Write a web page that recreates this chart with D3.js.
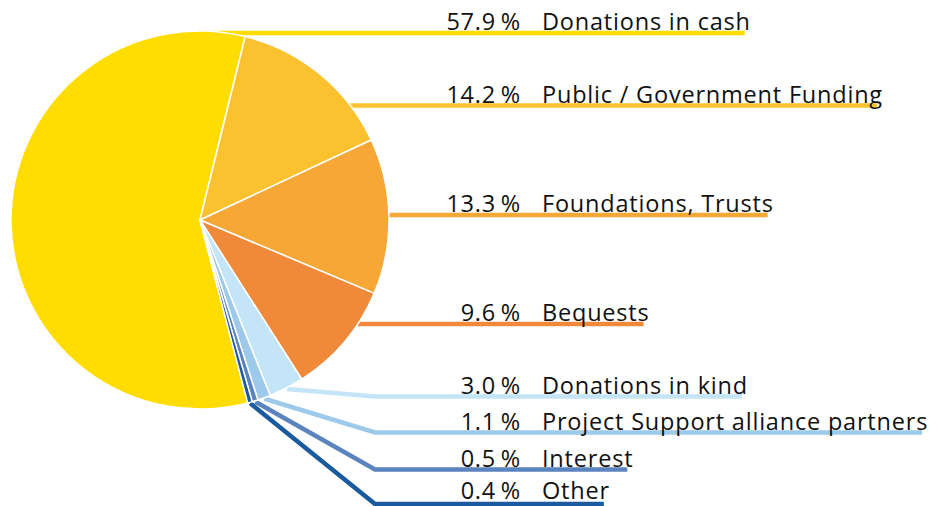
<!DOCTYPE html>
<html>
<head>
<meta charset="utf-8">
<script src="https://cdn.jsdelivr.net/npm/d3@7"></script>
<style>
  html, body { margin: 0; padding: 0; background: #ffffff; }
  svg { display: block; }
  text { font-family: "Open Sans", "Noto Sans", sans-serif; fill: #111111; }
</style>
</head>
<body>
<svg id="chart" width="931" height="506"></svg>
<script>
// ---- data ----
const categories = [
  "Donations in cash",
  "Public / Government Funding",
  "Foundations, Trusts",
  "Bequests",
  "Donations in kind",
  "Project Support alliance partners",
  "Interest",
  "Other"
];
const values = [57.9, 14.2, 13.3, 9.6, 3.0, 1.1, 0.5, 0.4];
const colors = ["#FFDD00", "#FCC12E", "#F6A735", "#F08A3A", "#C4E5F8", "#9DC9EA", "#5B84BF", "#1A5A9E"];

// ---- layout ----
const W = 931, H = 506;
const cx = 200, cy = 220, R = 189;
const startDeg = 165.4;                 // where the first slice begins (clockwise from 12 o'clock)
const labelRowY = [33, 105.5, 215, 324, 396.5, 432.5, 469.5, 504];
const leaderBend = [false, false, false, false, true, true, true, true];
const elbowX = 375;
const pctRightX = 521, nameX = 542;
const fontSize = 23.5;
const letterSpacing = 0.8;

const svg = d3.select("#chart");
const g = svg.append("g");

const pie = d3.pie().sort(null).value(d => d)
  .startAngle(startDeg * Math.PI / 180)
  .endAngle(startDeg * Math.PI / 180 + 2 * Math.PI);
const arcs = pie(values);
const arc = d3.arc().innerRadius(0).outerRadius(R);

const baseY = i => Math.min(labelRowY[i] - 3, H - 7.5);

// labels first (to measure their width)
const labels = g.append("g").attr("class", "labels");
const rows = labels.selectAll("g.row").data(arcs).join("g").attr("class", "row");
rows.append("text")
  .attr("x", pctRightX)
  .attr("y", (d, i) => baseY(i))
  .attr("text-anchor", "end")
  .attr("font-size", fontSize)
  .attr("letter-spacing", letterSpacing)
  .text(d => d.data.toFixed(1) + "\u2009%");
const nameText = rows.append("text")
  .attr("x", nameX)
  .attr("y", (d, i) => baseY(i))
  .attr("font-size", fontSize)
  .attr("letter-spacing", letterSpacing)
  .text((d, i) => categories[i]);

const nameEnds = [];
nameText.each(function (d, i) { nameEnds[i] = nameX + this.getComputedTextLength() - 6; });

// leader lines (behind pie)
const leaders = g.insert("g", ".labels").attr("class", "leaders");
const line = d3.line();
leaders.selectAll("path").data(arcs).join("path")
  .attr("fill", "none")
  .attr("stroke", (d, i) => colors[i])
  .attr("stroke-width", 4.5)
  .attr("stroke-linejoin", "miter")
  .attr("d", (d, i) => {
    const y = labelRowY[i];
    if (leaderBend[i]) {
      const m = (d.startAngle + d.endAngle) / 2;
      const r = R + 1;
      const p0 = [cx + r * Math.sin(m), cy - r * Math.cos(m)];
      return line([p0, [elbowX, y], [nameEnds[i], y]]);
    }
    return line([[cx, y], [nameEnds[i], y]]);
  });

// pie
const pieG = g.insert("g", ".labels").attr("transform", `translate(${cx},${cy})`);
pieG.selectAll("path").data(arcs).join("path")
  .attr("d", arc)
  .attr("fill", (d, i) => colors[i])
  .attr("stroke", "#ffffff")
  .attr("stroke-width", 1.5)
  .attr("stroke-linejoin", "round");
</script>
</body>
</html>
